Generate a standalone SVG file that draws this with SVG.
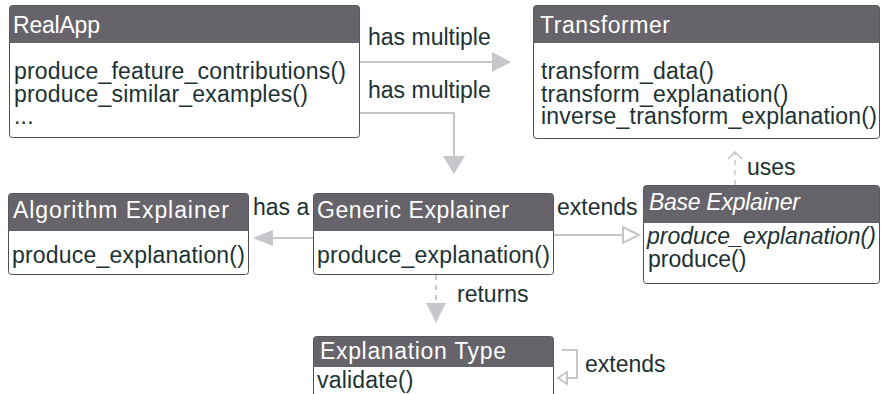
<svg xmlns="http://www.w3.org/2000/svg" width="881" height="394" viewBox="0 0 881 394">
<style>
  .box{fill:#ffffff;stroke:#4f4c54;stroke-width:1}
  .hdr{fill:#66636a}
  .ht{font-family:"Liberation Sans",Arial,sans-serif;font-size:23px;fill:#ffffff}
  .bt{font-family:"Liberation Sans",Arial,sans-serif;font-size:23px;fill:#1c3232;letter-spacing:0.2px}
  .it{font-style:italic}
  .lbl{font-family:"Liberation Sans",Arial,sans-serif;font-size:23px;fill:#1c3232}
  .edge{fill:none;stroke:#c7c7cb;stroke-width:2}
  .dash{stroke-dasharray:5 5}
  .head{fill:#c7c7cb;stroke:none}
  .hollow{fill:#ffffff;stroke:#c7c7cb;stroke-width:2}
</style>
<rect width="881" height="394" fill="#ffffff"/>

<g id="connectors">
  <path class="edge" d="M359 62 H493"/>
  <polygon class="head" points="511,62 492,52 492,72"/>
  <text class="lbl" x="368" y="45">has multiple</text>
  <path class="edge" d="M359 113 H454 V157"/>
  <polygon class="head" points="454,174 443,156 465,156"/>
  <text class="lbl" x="368" y="98">has multiple</text>
  <path class="edge" d="M313 238 H272"/>
  <polygon class="head" points="253,238 273,230 273,246"/>
  <text class="lbl" x="253" y="215">has a</text>
  <path class="edge" d="M554 235 H623"/>
  <polygon class="hollow" points="639,235 623,227 623,243"/>
  <text class="lbl" x="557" y="215">extends</text>
  <path class="edge dash" style="stroke-width:1.5" d="M735 185 V152"/>
  <path class="edge" style="stroke-width:1.5" d="M728 159 L735 152 L742 159"/>
  <text class="lbl" x="747" y="175">uses</text>
  <path class="edge dash" d="M436 275 V304"/>
  <polygon class="head" points="436,323 426,303 446,303"/>
  <text class="lbl" x="457" y="302">returns</text>
  <path class="edge" d="M562 350 H577 V378 H567"/>
  <polygon class="hollow" points="558,378 567,372 567,384"/>
  <text class="lbl" x="585" y="372">extends</text>
</g>

<g id="RealApp">
  <rect class="box" x="9.5" y="5.5" width="350" height="132" rx="3"/>
  <path class="hdr" d="M12.5 5.5 H356.5 A3 3 0 0 1 359.5 8.5 V43 H9.5 V8.5 A3 3 0 0 1 12.5 5.5 Z"/>
  <text class="ht" x="13" y="33" textLength="87" lengthAdjust="spacing">RealApp</text>
  <text class="bt"><tspan x="14" y="79">produce_feature_contributions()</tspan><tspan x="14" y="102">produce_similar_examples()</tspan><tspan x="14" y="124">...</tspan></text>
</g>

<g id="Transformer">
  <rect class="box" x="533.5" y="5.5" width="346" height="133" rx="3"/>
  <path class="hdr" d="M536.5 5.5 H876.5 A3 3 0 0 1 879.5 8.5 V43 H533.5 V8.5 A3 3 0 0 1 536.5 5.5 Z"/>
  <text class="ht" x="540" y="33" textLength="130" lengthAdjust="spacing">Transformer</text>
  <text class="bt"><tspan x="541" y="79">transform_data()</tspan><tspan x="541" y="102">transform_explanation()</tspan><tspan x="541" y="124">inverse_transform_explanation()</tspan></text>
</g>

<g id="AlgorithmExplainer">
  <rect class="box" x="8.5" y="193.5" width="240" height="81" rx="3"/>
  <path class="hdr" d="M11.5 193.5 H245.5 A3 3 0 0 1 248.5 196.5 V231 H8.5 V196.5 A3 3 0 0 1 11.5 193.5 Z"/>
  <text class="ht" x="13" y="218" textLength="216" lengthAdjust="spacing">Algorithm Explainer</text>
  <text class="bt" x="12" y="263">produce_explanation()</text>
</g>

<g id="GenericExplainer">
  <rect class="box" x="313.5" y="193.5" width="240" height="81" rx="3"/>
  <path class="hdr" d="M316.5 193.5 H550.5 A3 3 0 0 1 553.5 196.5 V231 H313.5 V196.5 A3 3 0 0 1 316.5 193.5 Z"/>
  <text class="ht" x="317" y="218" textLength="192" lengthAdjust="spacing">Generic Explainer</text>
  <text class="bt" x="317" y="263">produce_explanation()</text>
</g>

<g id="BaseExplainer">
  <rect class="box" x="643.5" y="185.5" width="236" height="98" rx="3"/>
  <path class="hdr" d="M646.5 185.5 H876.5 A3 3 0 0 1 879.5 188.5 V223 H643.5 V188.5 A3 3 0 0 1 646.5 185.5 Z"/>
  <text class="ht it" x="649" y="210" textLength="151" lengthAdjust="spacing">Base Explainer</text>
  <text class="bt" style="letter-spacing:0"><tspan class="it" x="647" y="244">produce_explanation()</tspan><tspan x="648" y="267">produce()</tspan></text>
</g>

<g id="ExplanationType">
  <rect class="box" x="313.5" y="336.5" width="240" height="70" rx="3"/>
  <path class="hdr" d="M316.5 336.5 H550.5 A3 3 0 0 1 553.5 339.5 V367 H313.5 V339.5 A3 3 0 0 1 316.5 336.5 Z"/>
  <text class="ht" x="320" y="359" textLength="186" lengthAdjust="spacing">Explanation Type</text>
  <text class="bt" x="317" y="388">validate()</text>
</g>
</svg>
